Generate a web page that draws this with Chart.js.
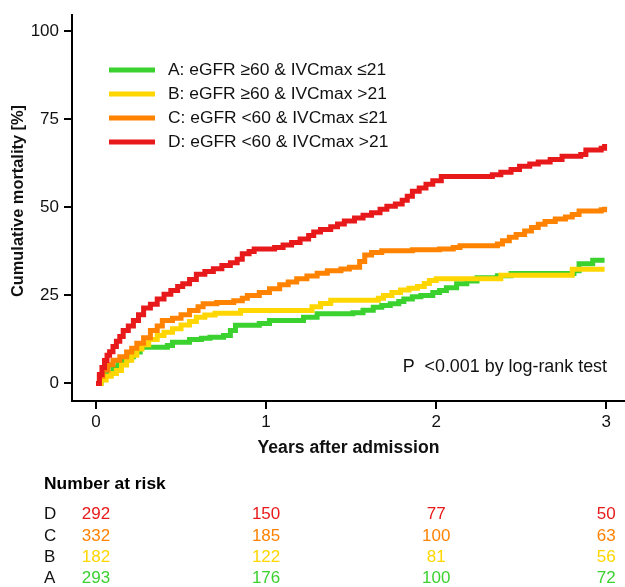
<!DOCTYPE html>
<html><head><meta charset="utf-8">
<script src="https://cdn.jsdelivr.net/npm/chart.js@4/dist/chart.umd.min.js"></script>
<style>html,body{margin:0;padding:0;background:#fff;}#wrap{width:625px;height:587px;}</style>
</head><body>
<div id="wrap"><canvas id="c" width="625" height="587"></canvas></div>
<script>
// ---------- data ----------
const groupNames = ['A', 'B', 'C', 'D'];
const legendLabels = [
  'A: eGFR \u226560 & IVCmax \u226421',
  'B: eGFR \u226560 & IVCmax >21',
  'C: eGFR <60 & IVCmax \u226421',
  'D: eGFR <60 & IVCmax >21'
];
const xTicks = [0, 1, 2, 3];
const yTicks = [0, 25, 50, 75, 100];

const timeA = [0,0.03,0.06,0.1,0.13,0.16,0.19,0.22,0.26,0.42,0.45,0.55,0.62,0.67,0.75,0.79,0.82,0.96,1.02,1.22,1.3,1.51,1.57,1.63,1.68,1.73,1.78,1.81,1.86,1.91,1.98,2.02,2.06,2.12,2.18,2.24,2.36,2.44,2.81,2.84,2.92,2.99];
const cumA  = [0,2,2.9,4.6,5.6,6.6,7.6,8.9,10.3,10.8,11.7,12.5,12.8,13.1,13.6,15,16.5,17,17.9,18.8,19.8,20.1,20.8,21.6,22.1,22.6,23.3,24,24.6,25,25.8,26.4,27.2,28.3,29.1,30,30.6,31.2,32,34,35,35];

const timeB = [0,0.03,0.06,0.09,0.12,0.15,0.18,0.21,0.24,0.27,0.31,0.36,0.4,0.45,0.5,0.55,0.59,0.64,0.7,0.85,1.27,1.32,1.38,1.66,1.69,1.74,1.79,1.84,1.89,1.93,1.96,2.0,2.38,2.8,2.99];
const cumB  = [0,1,2,2.8,3.7,5.2,6.6,8,9.8,11,12.5,13.6,14.5,15.5,16.6,17.6,18.8,19.4,19.9,20.7,21.8,22.7,23.6,24.2,25,25.8,26.5,27,27.5,28.4,29.2,29.7,30.7,32.4,32.4];

const timeC = [0,0.02,0.04,0.07,0.1,0.14,0.18,0.21,0.24,0.28,0.32,0.36,0.39,0.45,0.5,0.55,0.6,0.63,0.71,0.81,0.86,0.89,0.96,1.02,1.08,1.13,1.18,1.24,1.3,1.36,1.44,1.49,1.55,1.58,1.62,1.68,1.86,2.02,2.1,2.14,2.36,2.39,2.43,2.47,2.52,2.56,2.6,2.64,2.7,2.76,2.8,2.84,2.97,2.99];
const cumC  = [0,2,3.8,5.3,6.6,7.6,8.9,10,11.4,13,15,16.3,17.9,18.5,19.5,20.7,21.8,22.6,23,23.5,24.2,25,25.8,26.9,28,28.8,29.7,30.5,31.3,32,32.5,33,34.6,36.5,37.2,37.7,38,38.2,38.6,39.1,39.6,40.5,41.5,42.3,43.3,44.3,45.2,46,46.7,47.3,48,49,49.3,50.2];

const timeD = [0,0.02,0.035,0.05,0.065,0.08,0.1,0.12,0.14,0.16,0.19,0.22,0.25,0.28,0.32,0.36,0.4,0.44,0.48,0.51,0.55,0.59,0.64,0.69,0.74,0.79,0.83,0.86,0.9,0.93,1.05,1.1,1.15,1.2,1.25,1.28,1.32,1.38,1.42,1.46,1.52,1.57,1.62,1.67,1.71,1.76,1.8,1.83,1.86,1.9,1.94,1.98,2.03,2.33,2.38,2.44,2.49,2.55,2.6,2.67,2.74,2.85,2.88,2.97,2.99];
const cumD  = [0,2.5,4.5,6.5,8,9,10.5,12,13.3,15,16.3,17.9,19.5,21.4,22.5,24,25.3,26.4,27.5,28.3,29.5,31,31.8,32.6,33.5,34.3,35.3,36.8,37.5,38.2,38.6,39.3,40,41,42,43,43.7,44.5,45.3,46.1,47,47.8,48.5,49.5,50.3,51,52,53.2,54.6,55.5,56.6,57.6,58.8,59.3,60,60.8,61.7,62.3,62.9,63.6,64.5,65,66.3,66.8,68];

const riskTimes = [0, 1, 2, 3];
const riskA = [293, 176, 100, 72];
const riskB = [182, 122, 81, 56];
const riskC = [332, 185, 100, 63];
const riskD = [292, 150, 77, 50];

// ---------- styles ----------
const FONT = '"Liberation Sans", Arial, sans-serif';
const colors = { A: '#3bd12f', B: '#ffd600', C: '#ff8200', D: '#e8191b' };

const toPts = (t, v) => t.map((x, i) => ({ x: x, y: v[i] }));
const series = [
  { g: 'A', t: timeA, v: cumA, order: 3 },
  { g: 'B', t: timeB, v: cumB, order: 2 },
  { g: 'C', t: timeC, v: cumC, order: 1 },
  { g: 'D', t: timeD, v: cumD, order: 0 }
];

const overlay = {
  id: 'overlay',
  afterDraw(chart) {
    const ctx = chart.ctx;
    const xs = chart.scales.x;
    ctx.save();
    // y-axis title
    ctx.save();
    ctx.translate(18, 201);
    ctx.rotate(-Math.PI / 2);
    ctx.fillStyle = '#111';
    ctx.font = 'bold 16.4px ' + FONT;
    ctx.textAlign = 'center';
    ctx.textBaseline = 'middle';
    ctx.fillText('Cumulative mortality [%]', 0, 0);
    ctx.restore();
    // legend
    const ly = [70, 94, 118, 142];
    groupNames.forEach((g, i) => {
      ctx.strokeStyle = colors[g];
      ctx.lineWidth = 5;
      ctx.lineCap = 'butt';
      ctx.beginPath();
      ctx.moveTo(109, ly[i]);
      ctx.lineTo(155, ly[i]);
      ctx.stroke();
      ctx.fillStyle = '#111';
      ctx.font = '17.4px ' + FONT;
      ctx.textAlign = 'left';
      ctx.textBaseline = 'middle';
      ctx.fillText(legendLabels[i], 168, ly[i]);
    });
    // p value
    ctx.fillStyle = '#111';
    ctx.font = '17.9px ' + FONT;
    ctx.textAlign = 'right';
    ctx.textBaseline = 'middle';
    ctx.fillText('P  <0.001 by log-rank test', 607, 367);
    // number at risk
    ctx.font = 'bold 17.4px ' + FONT;
    ctx.textAlign = 'left';
    ctx.fillStyle = '#000';
    ctx.fillText('Number at risk', 44, 484);
    const rows = [['D', riskD, 514], ['C', riskC, 536], ['B', riskB, 557], ['A', riskA, 578]];
    rows.forEach(([g, arr, y]) => {
      ctx.font = '17px ' + FONT;
      ctx.textAlign = 'left';
      ctx.fillStyle = '#111';
      ctx.fillText(g, 44, y);
      ctx.textAlign = 'center';
      ctx.fillStyle = colors[g];
      arr.forEach((n, j) => {
        ctx.fillText(String(n), xs.getPixelForValue(riskTimes[j]), y);
      });
    });
    ctx.restore();
  }
};

new Chart(document.getElementById('c'), {
  type: 'line',
  data: {
    datasets: series.map(s => ({
      label: s.g,
      data: toPts(s.t, s.v),
      borderColor: colors[s.g],
      backgroundColor: colors[s.g],
      borderWidth: 5,
      pointRadius: 0,
      stepped: true,
      fill: false,
      order: s.order,
      borderJoinStyle: 'miter'
    }))
  },
  options: {
    responsive: false,
    animation: false,
    devicePixelRatio: 1,
    layout: { padding: { left: 0, right: 0, top: 13, bottom: 126 } },
    plugins: { legend: { display: false }, tooltip: { enabled: false } },
    scales: {
      x: {
        type: 'linear', min: -0.141, max: 3.11,
        afterBuildTicks: s => { s.ticks = xTicks.map(v => ({ value: v })); },
        afterFit: s => { s.height = 60; },
        grid: { display: true, drawOnChartArea: false, drawTicks: true, tickLength: 8, color: '#000', lineWidth: 2 },
        border: { display: true, color: '#000', width: 2 },
        ticks: { color: '#111', font: { family: FONT, size: 17 }, padding: 3, maxRotation: 0, autoSkip: false },
        title: { display: true, text: 'Years after admission', color: '#111', font: { family: FONT, size: 17.6, weight: 'bold' }, padding: { top: 0, bottom: 2 } }
      },
      y: {
        type: 'linear', min: -5, max: 104.6,
        afterBuildTicks: s => { s.ticks = yTicks.map(v => ({ value: v })); },
        afterFit: s => { s.width = 72; },
        grid: { display: true, drawOnChartArea: false, drawTicks: true, tickLength: 8, color: '#000', lineWidth: 2 },
        border: { display: true, color: '#000', width: 2 },
        ticks: { color: '#111', font: { family: FONT, size: 17 }, padding: 5, autoSkip: false },
        title: { display: false }
      }
    }
  },
  plugins: [overlay]
});
</script>
</body></html>
